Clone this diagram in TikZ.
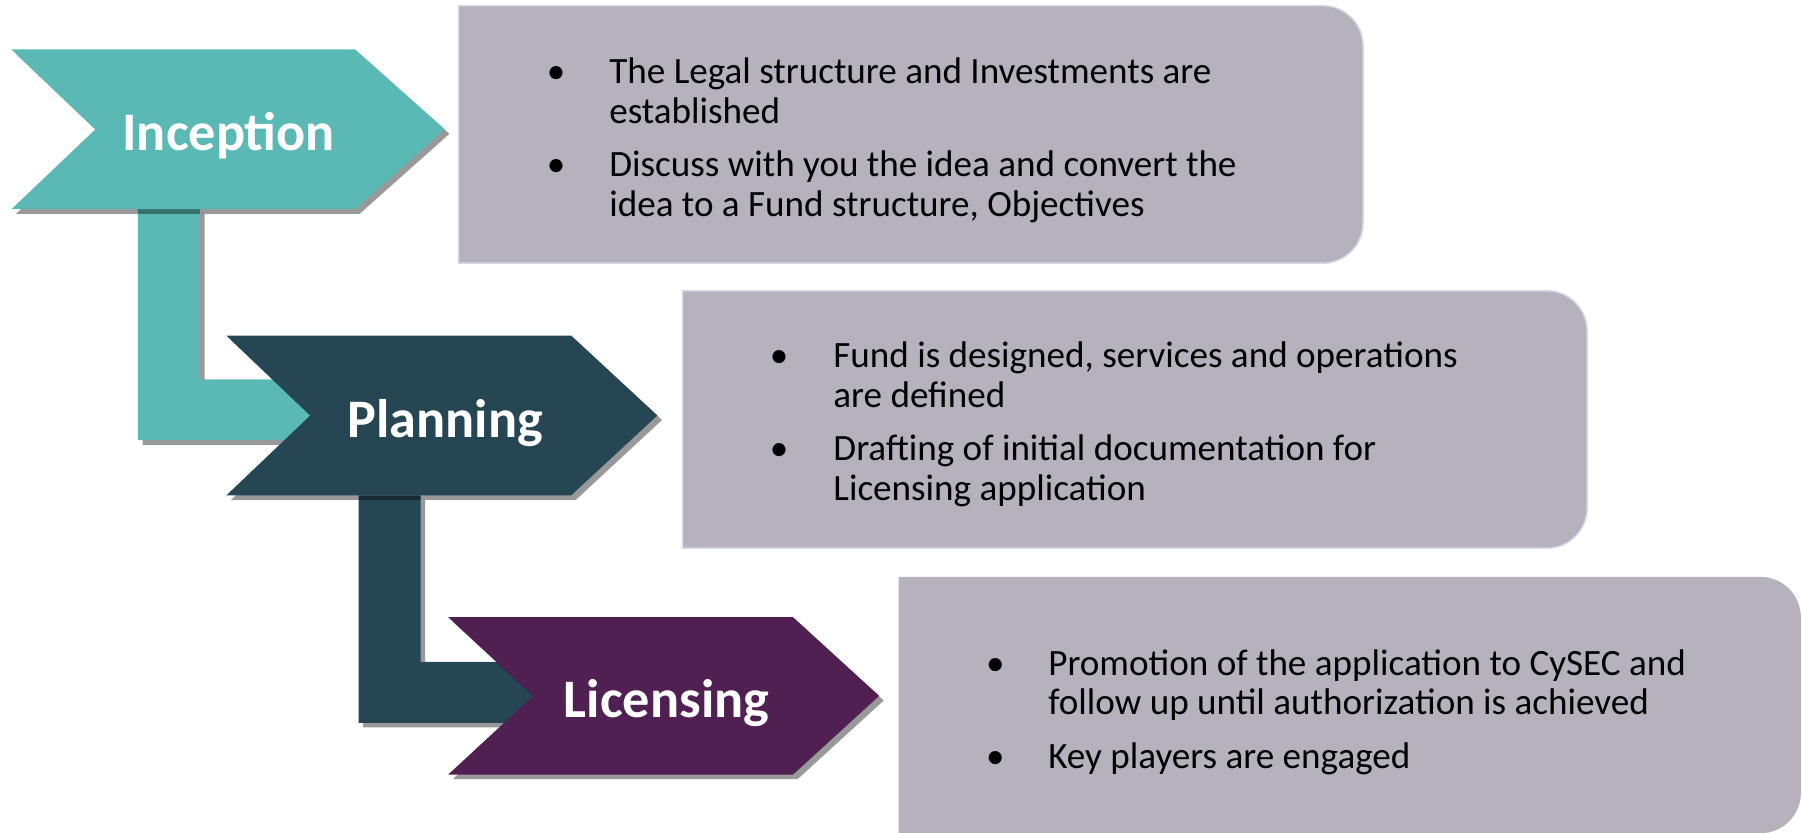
\documentclass[tikz,border=0pt]{standalone}
\usepackage{fontspec}
\setmainfont{Carlito}
\definecolor{teal1}{RGB}{91,185,181}
\definecolor{slate1}{RGB}{39,70,84}
\definecolor{plum1}{RGB}{81,32,82}
\definecolor{boxfill}{RGB}{183,177,189}
\definecolor{boxline}{RGB}{211,215,230}
\begin{document}
\begin{tikzpicture}[x=1pt,y=-1pt,
  shadowfill/.style={fill=black,fill opacity=0.4,shift={(4,4)}},
  infobox/.style={fill=boxfill,draw=boxline,line width=1.3pt},
  ttl/.style={anchor=base,text=white,inner sep=0pt,font=\fontsize{47.2}{50}\selectfont\bfseries},
  txt/.style={anchor=base west,inner sep=0pt,font=\fontsize{32.3}{35}\selectfont},
  bul/.style={anchor=base,inner sep=0pt,font=\fontsize{32.3}{35}\selectfont}]
\useasboundingbox (0,0) rectangle (1568,724);
\clip (0,0) rectangle (1568,724);

% info boxes
\path[infobox] (399,5) -- (1151,5) .. controls (1170.3,5) and (1186,20.7) .. (1186,40)
  -- (1186,194) .. controls (1186,213.3) and (1170.3,229) .. (1151,229) -- (399,229) -- cycle;
\path[infobox] (594,253) -- (1346,253) .. controls (1365.3,253) and (1381,268.7) .. (1381,288)
  -- (1381,442) .. controls (1381,461.3) and (1365.3,477) .. (1346,477) -- (594,477) -- cycle;
\path[fill=boxfill] (782,502) -- (1532,502) .. controls (1551.3,502) and (1567,517.7) .. (1567,537)
  -- (1567,690) .. controls (1567,709.3) and (1551.3,725) .. (1532,725) -- (782,725) -- cycle;

% L connectors
\fill[shadowfill] (120,182) -- (174,182) -- (174,330) -- (330,330) -- (330,383) -- (120,383) -- cycle;
\fill[teal1] (120,182) -- (174,182) -- (174,330) -- (330,330) -- (330,383) -- (120,383) -- cycle;
\fill[shadowfill] (312,431) -- (366,431) -- (366,576) -- (520,576) -- (520,629) -- (312,629) -- cycle;
\fill[slate1] (312,431) -- (366,431) -- (366,576) -- (520,576) -- (520,629) -- (312,629) -- cycle;

% chevrons
\fill[shadowfill] (10,43) -- (309,43) -- (387,112.5) -- (309,182) -- (10,182) -- (83,112.5) -- cycle;
\fill[teal1] (10,43) -- (309,43) -- (387,112.5) -- (309,182) -- (10,182) -- (83,112.5) -- cycle;
\fill[shadowfill] (197,292) -- (497,292) -- (572,361.5) -- (497,431) -- (197,431) -- (270,361.5) -- cycle;
\fill[slate1] (197,292) -- (497,292) -- (572,361.5) -- (497,431) -- (197,431) -- (270,361.5) -- cycle;
\fill[shadowfill] (390,537) -- (690,537) -- (765,605.5) -- (690,674) -- (390,674) -- (464,605.5) -- cycle;
\fill[plum1] (390,537) -- (690,537) -- (765,605.5) -- (690,674) -- (390,674) -- (464,605.5) -- cycle;

% titles
\node[ttl] (inc) at (199,131) {Inception};
\node[ttl] (pla) at (387.5,380.5) {Planning};
\node[ttl] (lic) at (580,624) {Licensing};

% box 1 text
\node[bul] (b1a) at (484,72.5) {\textbullet};
\node[txt] (b1a1) at (530,72.5) {The Legal structure and Investments are};
\node[txt] (b1a2) at (530,107.5) {established};
\node[bul] (b1b) at (484,153.5) {\textbullet};
\node[txt] (b1b1) at (530,153.5) {Discuss with you the idea and convert the};
\node[txt] (b1b2) at (530,188.5) {idea to a Fund structure, Objectives};

% box 2 text
\node[bul] (b2a) at (678,319.5) {\textbullet};
\node[txt] (b2a1) at (725,319.5) {Fund is designed, services and operations};
\node[txt] (b2a2) at (725,354.5) {are defined};
\node[bul] (b2b) at (678,400.5) {\textbullet};
\node[txt] (b2b1) at (725,400.5) {Drafting of initial documentation for};
\node[txt] (b2b2) at (725,435.5) {Licensing application};

% box 3 text
\node[bul] (b3a) at (866,587.5) {\textbullet};
\node[txt] (b3a1) at (912,587.5) {Promotion of the application to CySEC and};
\node[txt] (b3a2) at (912,621.5) {follow up until authorization is achieved};
\node[bul] (b3b) at (866,668.5) {\textbullet};
\node[txt] (b3b1) at (912,668.5) {Key players are engaged};
\end{tikzpicture}
\end{document}
